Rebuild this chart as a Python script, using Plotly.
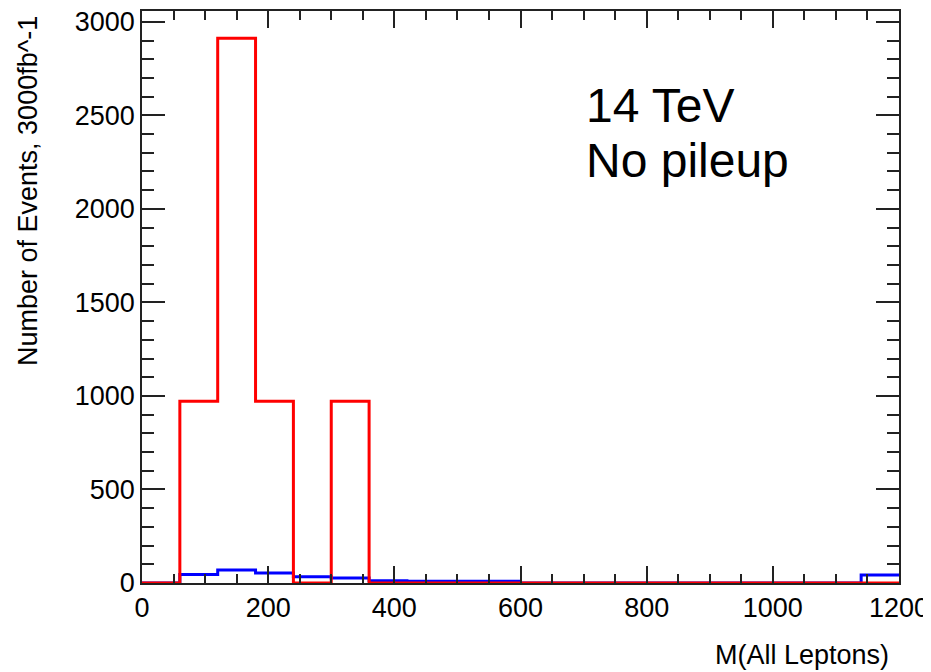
import plotly.graph_objects as go

# Bin edges (GeV), 60 GeV bins from 0 to 1200
bin_edges = [0, 60, 120, 180, 240, 300, 360, 420, 480, 540, 600, 660, 720,
             780, 840, 900, 960, 1020, 1080, 1140, 1200]
# Per-bin contents
red_counts = [0, 971, 2912, 971, 0, 971, 0, 0, 0, 0,
              0, 0, 0, 0, 0, 0, 0, 0, 0, 0]
blue_counts = [0, 46, 69, 53, 34, 27, 12, 9, 9, 9,
               0, 0, 0, 0, 0, 0, 0, 0, 0, 43]

# The page body has an 8px default margin; compensate so the plot frame
# lands at the reference pixel positions.
OFF = 8
W, H = 931 - OFF, 672 - OFF
L, R, T, B = 142 - OFF, 32, 11 - OFF, 89
pw, ph = W - L - R, H - T - B


def step(counts):
    return list(bin_edges), list(counts) + [counts[-1]]


fig = go.Figure()
bx, by = step(blue_counts)
fig.add_trace(go.Scatter(x=bx, y=by, mode="lines", line_shape="hv",
                         line=dict(color="#0000ff", width=3), showlegend=False))
rx, ry = step(red_counts)
fig.add_trace(go.Scatter(x=rx, y=ry, mode="lines", line_shape="hv",
                         line=dict(color="#ff0000", width=3), showlegend=False))

font = "Liberation Sans, Arial, sans-serif"
fig.update_layout(
    width=W, height=H,
    margin=dict(l=L, r=R, t=T, b=B, pad=0, autoexpand=False),
    paper_bgcolor="white", plot_bgcolor="white",
    font=dict(family=font, color="black", size=27),
    xaxis=dict(range=[0, 1200], dtick=200, tick0=0, ticks="inside", ticklen=17,
               tickwidth=1.5, tickcolor="#222", showgrid=False, zeroline=False,
               showline=True, linecolor="#222", linewidth=1.5, mirror="allticks",
               tickfont=dict(size=27), automargin=False, ticklabeloverflow="allow",
               minor=dict(dtick=50, ticks="inside", ticklen=9, tickwidth=1.5,
                          tickcolor="#222", showgrid=False)),
    yaxis=dict(range=[0, 3058], dtick=500, tick0=0, ticks="inside", ticklen=23,
               tickwidth=1.5, tickcolor="#222", showgrid=False, zeroline=False,
               showline=True, linecolor="#222", linewidth=1.5, mirror="allticks",
               tickfont=dict(size=27), automargin=False, ticklabeloverflow="allow",
               minor=dict(dtick=100, ticks="inside", ticklen=12, tickwidth=1.5,
                          tickcolor="#222", showgrid=False)),
    annotations=[
        dict(text="Number of Events, 3000fb^-1", textangle=-90, showarrow=False,
             xref="paper", yref="paper", x=(28 - 142) / pw, y=(583 - 14) / ph,
             xanchor="center", yanchor="top", font=dict(size=27)),
        dict(text="M(All Leptons)", showarrow=False, xref="paper", yref="paper",
             x=(891 - 142) / pw, y=(583 - 655) / ph, xanchor="right",
             yanchor="middle", font=dict(size=27)),
        dict(text="14 TeV", showarrow=False, xref="paper", yref="paper",
             x=(584 - 142) / pw, y=(583 - 106) / ph, xanchor="left",
             yanchor="middle", font=dict(size=48)),
        dict(text="No pileup", showarrow=False, xref="paper", yref="paper",
             x=(584 - 142) / pw, y=(583 - 160) / ph, xanchor="left",
             yanchor="middle", font=dict(size=48)),
    ],
)

fig.write_html("out.html")
